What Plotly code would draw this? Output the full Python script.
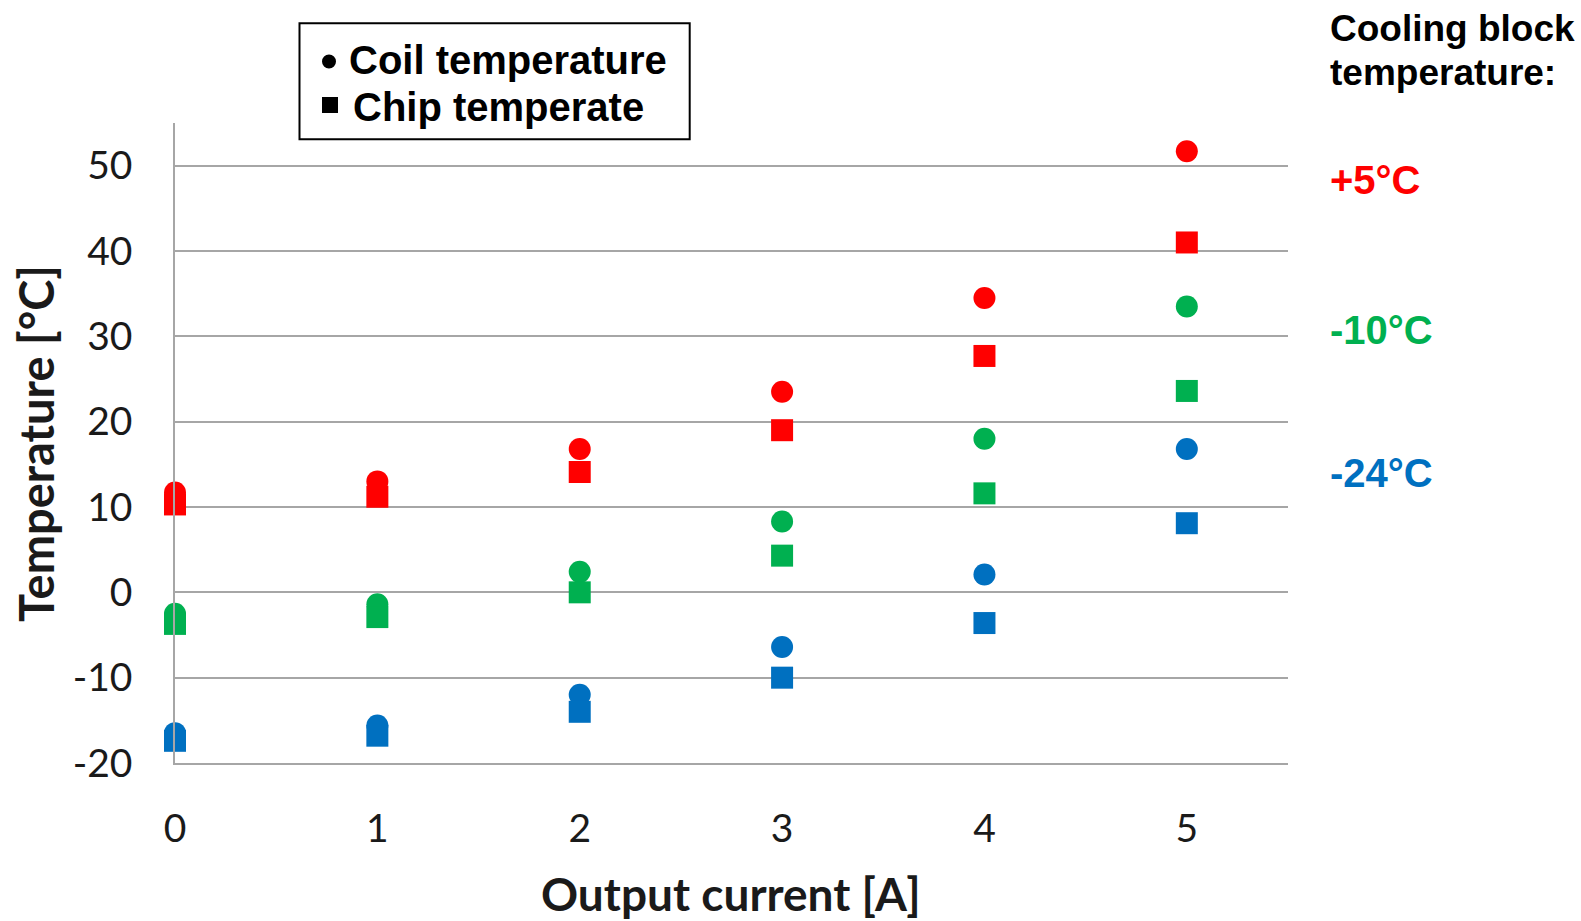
import plotly.graph_objects as go

# ---- data ----
currents = [0, 1, 2, 3, 4, 5]
coil_p5 = [11.7, 13.0, 16.8, 23.5, 34.5, 51.7]
chip_p5 = [10.3, 11.2, 14.1, 19.0, 27.7, 41.0]
coil_m10 = [-2.5, -1.4, 2.4, 8.3, 18.0, 33.5]
chip_m10 = [-3.7, -2.9, 0.0, 4.3, 11.6, 23.6]
coil_m24 = [-16.5, -15.6, -12.0, -6.4, 2.1, 16.8]
chip_m24 = [-17.4, -16.8, -14.0, -10.0, -3.6, 8.1]

block_labels = ["+5°C", "-10°C", "-24°C"]
block_colors = ["#FF0000", "#00B050", "#0070C0"]
legend_labels = ["Coil temperature", "Chip temperate"]
header_lines = ["Cooling block", "temperature:"]

x_tick_vals = [0, 1, 2, 3, 4, 5]
x_tick_labels = ["0", "1", "2", "3", "4", "5"]
y_tick_vals = [-20, -10, 0, 10, 20, 30, 40, 50]
y_tick_labels = ["-20", "-10", "0", "10", "20", "30", "40", "50"]

W, H = 1581, 921
L, R, T, B = 175, 1288, 123, 763


def px(xp):
    return (xp - L) / (R - L)


def py(yp):
    return (B - yp) / (B - T)


fig = go.Figure()

series = [
    (coil_p5, chip_p5, block_colors[0], block_labels[0]),
    (coil_m10, chip_m10, block_colors[1], block_labels[1]),
    (coil_m24, chip_m24, block_colors[2], block_labels[2]),
]
for coil, chip, col, lab in series:
    fig.add_trace(go.Scatter(x=currents, y=coil, mode="markers", name=f"Coil {lab}",
                             marker=dict(symbol="circle", size=22, color=col),
                             showlegend=False, cliponaxis=False))
    fig.add_trace(go.Scatter(x=currents, y=chip, mode="markers", name=f"Chip {lab}",
                             marker=dict(symbol="square", size=22, color=col),
                             showlegend=False, cliponaxis=False))

grid = "#A6A6A6"
fig.update_layout(
    width=W, height=H,
    margin=dict(l=L, r=W - R, t=T, b=H - B, autoexpand=False),
    paper_bgcolor="white", plot_bgcolor="white",
    showlegend=False,
    xaxis=dict(
        range=[0, 5.5], tickvals=x_tick_vals, ticktext=x_tick_labels,
        showgrid=False, zeroline=False, showline=True, linecolor=grid, linewidth=1.5,
        ticks="", ticklabelstandoff=30,
        tickfont=dict(family="Lato", size=39, color="#1a1a1a"),
    ),
    yaxis=dict(
        range=[-20, 55], tickvals=y_tick_vals, ticktext=y_tick_labels,
        showgrid=True, gridcolor=grid, gridwidth=1.5, zeroline=False,
        showline=True, linecolor=grid, linewidth=1.5,
        ticks="", ticklabelstandoff=33,
        tickfont=dict(family="Lato", size=39, color="#1a1a1a"),
    ),
)

shapes = []
# legend box
shapes.append(dict(type="rect", xref="paper", yref="paper",
                   x0=px(299.5), x1=px(689.7), y0=py(23.2), y1=py(139.2),
                   line=dict(color="black", width=2), fillcolor="white", layer="above"))
# legend symbols
shapes.append(dict(type="circle", xref="paper", yref="paper",
                   x0=px(322), x1=px(336), y0=py(54.5), y1=py(68.5),
                   line=dict(width=0), fillcolor="black", layer="above"))
shapes.append(dict(type="rect", xref="paper", yref="paper",
                   x0=px(322), x1=px(338), y0=py(97), y1=py(113),
                   line=dict(width=0), fillcolor="black", layer="above"))

ann = []
ann.append(dict(text=f"<b>{legend_labels[0]}</b>", xref="paper", yref="paper",
                x=px(347), y=py(60), xanchor="left", yanchor="middle", showarrow=False,
                font=dict(family="Liberation Sans", size=40, color="black")))
ann.append(dict(text=f"<b>{legend_labels[1]}</b>", xref="paper", yref="paper",
                x=px(351), y=py(107), xanchor="left", yanchor="middle", showarrow=False,
                font=dict(family="Liberation Sans", size=40, color="black")))
# axis titles
ann.append(dict(text="<b>Output current [A]</b>", xref="paper", yref="paper",
                x=px(731), y=py(893), xanchor="center", yanchor="middle", showarrow=False,
                font=dict(family="Lato", size=46, color="#1a1a1a")))
ann.append(dict(text="<b>Temperature [°C]</b>", xref="paper", yref="paper",
                x=px(36), y=py(444), xanchor="center", yanchor="middle", textangle=-90,
                showarrow=False, font=dict(family="Lato", size=47, color="#1a1a1a")))
# cooling block header
for line, yy in zip(header_lines, [28, 72]):
    ann.append(dict(text=f"<b>{line}</b>", xref="paper", yref="paper",
                    x=px(1328), y=py(yy), xanchor="left", yanchor="middle", align="left",
                    showarrow=False, font=dict(family="Liberation Sans", size=37, color="black")))
label_y = [180, 330, 473]
for lab, col, yy in zip(block_labels, block_colors, label_y):
    ann.append(dict(text=f"<b>{lab}</b>", xref="paper", yref="paper",
                    x=px(1328), y=py(yy), xanchor="left", yanchor="middle", showarrow=False,
                    font=dict(family="Liberation Sans", size=40, color=col)))
fig.update_layout(annotations=ann, shapes=shapes)

fig.write_html("out.html",
               config={"displayModeBar": False},
               post_script="document.body.style.margin='0px';document.body.style.overflow='hidden';")
